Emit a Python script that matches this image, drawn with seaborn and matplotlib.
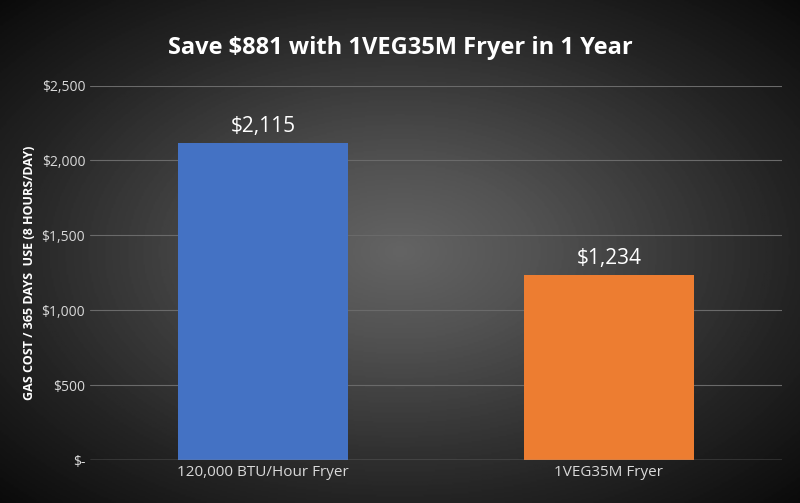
import numpy as np
import pandas as pd
import matplotlib
matplotlib.use("Agg")
import matplotlib.pyplot as plt
import seaborn as sns

categories = ["120,000 BTU/Hour Fryer", "1VEG35M Fryer"]
costs = [2115, 1234]
bar_labels = ["$2,115", "$1,234"]
yticks = [0, 500, 1000, 1500, 2000, 2500]
ytick_labels = ["$-", "$500", "$1,000", "$1,500", "$2,000", "$2,500"]
colors = ["#4472c4", "#ed7d31"]

sns.set_theme(style="dark")
plt.rcParams["font.family"] = ["Open Sans", "DejaVu Sans"]

fig = plt.figure(figsize=(8.0, 5.03), dpi=100)

# radial dark background
bg = fig.add_axes([0, 0, 1, 1])
yy, xx = np.mgrid[-1:1:300j, -1:1:480j]
r = np.sqrt(xx ** 2 + yy ** 2)
bg.imshow(-r, cmap="Greys_r", vmin=-1.6, vmax=3.4, aspect="auto", extent=[0, 1, 0, 1])
bg.set_axis_off()

ax = fig.add_axes([0.1125, 0.085, 0.865, 0.745])
ax.patch.set_alpha(0)
df = pd.DataFrame({"cat": categories, "cost": costs})
sns.barplot(data=df, x="cat", y="cost", hue="cat", palette=colors, width=0.49,
            legend=False, ax=ax, saturation=1, linewidth=0, edgecolor="none")
for i, (v, lab) in enumerate(zip(costs, bar_labels)):
    ax.text(i, v + 40, lab, ha="center", va="bottom", color="white", fontsize=15)

ax.set_ylim(0, 2500)
ax.set_yticks(yticks)
ax.set_yticklabels(ytick_labels, color="#d9d9d9", fontsize=10)
ax.tick_params(axis="x", colors="#d9d9d9", labelsize=11, length=0)
ax.tick_params(axis="y", length=0)
ax.grid(axis="y", color="#6a6a6a", linewidth=0.8)
ax.set_axisbelow(True)
for s in ax.spines.values():
    s.set_visible(False)
ax.axhline(0, color="#8a8a8a", linewidth=1)
ax.set_xlabel("")
ax.set_ylabel("GAS COST / 365 DAYS  USE (8 HOURS/DAY)", color="white",
              fontsize=9, fontweight="bold")
fig.text(0.5, 0.905, "Save $881 with 1VEG35M Fryer in 1 Year", ha="center",
         va="center", color="white", fontsize=17, fontweight="bold")

fig.savefig("out.png", dpi=100)
